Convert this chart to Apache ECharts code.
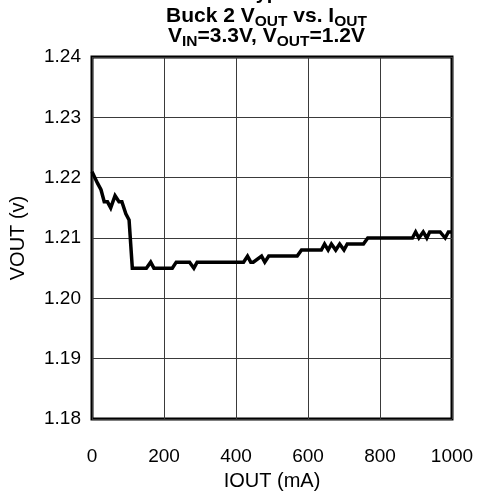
<!DOCTYPE html>
<html>
<head>
<meta charset="utf-8">
<script src="https://cdn.jsdelivr.net/npm/echarts@6/dist/echarts.min.js"></script>
<style>html,body{margin:0;padding:0;background:#fff;}#c{width:477px;height:498px;}</style>
</head>
<body>
<div id="c"></div>
<script>
const iout = [0, 16, 25, 34, 43, 52, 64, 75, 83, 94, 103, 112, 151, 163, 172, 223, 234, 271, 283, 292, 421, 432, 441, 448, 471, 480, 491, 570, 582, 637, 646, 656, 665, 677, 688, 700, 709, 754, 766, 890, 899, 908, 920, 930, 938, 967, 981, 990, 1000];
const vout = [1.221, 1.219, 1.218, 1.216, 1.216, 1.215, 1.217, 1.216, 1.216, 1.214, 1.213, 1.205, 1.205, 1.206, 1.205, 1.205, 1.206, 1.206, 1.205, 1.206, 1.206, 1.207, 1.206, 1.206, 1.207, 1.206, 1.207, 1.207, 1.208, 1.208, 1.209, 1.208, 1.209, 1.208, 1.209, 1.208, 1.209, 1.209, 1.210, 1.210, 1.211, 1.210, 1.211, 1.210, 1.211, 1.211, 1.210, 1.211, 1.211];
const xTicks = [0, 200, 400, 600, 800, 1000];
const yTicks = [1.18, 1.19, 1.20, 1.21, 1.22, 1.23, 1.24];
// title pieces: [text, isSubscript]
const titleLine1 = [['Buck 2 V', false], ['OUT', true], [' vs. I', false], ['OUT', true]];
const titleLine2 = [['V', false], ['IN', true], ['=3.3V, V', false], ['OUT', true], ['=1.2V', false]];

const FONT = '"Liberation Sans", Arial, sans-serif';
const MAIN_FS = 21, SUB_FS = 15.5;
const ctx = document.createElement('canvas').getContext('2d');
function measure(t, fs) { ctx.font = 'bold ' + fs + 'px ' + FONT; return ctx.measureText(t).width; }
function textEl(t, fs, x, baseY) {
  return {type: 'text', x: x, y: baseY - 0.31 * fs,
    style: {text: t, fontSize: fs, fontWeight: 'bold', fontFamily: FONT, fill: '#000', verticalAlign: 'middle', align: 'left'}};
}
function buildLine(pieces, centerX, baseY) {
  const widths = pieces.map(p => measure(p[0], p[1] ? SUB_FS : MAIN_FS));
  const total = widths.reduce((a, c) => a + c, 0);
  let x = centerX - total / 2;
  return pieces.map((p, i) => {
    const el = textEl(p[0], p[1] ? SUB_FS : MAIN_FS, x, baseY + (p[1] ? 4 : 0));
    x += widths[i];
    return el;
  });
}

const chart = echarts.init(document.getElementById('c'), null, {renderer: 'canvas'});
chart.setOption({
  animation: false,
  backgroundColor: '#fff',
  graphic: [
    textEl('Typical', 20, 245, 0),
    ...buildLine(titleLine1, 266.5, 23),
    ...buildLine(titleLine2, 266.5, 43)
  ],
  grid: {left: 91, right: 25, top: 57, bottom: 79, show: true, borderColor: '#000', borderWidth: 3},
  xAxis: {
    type: 'value', min: 0, max: 1000, interval: 200,
    name: 'IOUT (mA)', nameLocation: 'middle', nameGap: 52,
    nameTextStyle: {fontSize: 20, fontFamily: FONT, color: '#000'},
    axisLine: {show: false}, axisTick: {show: false},
    axisLabel: {fontSize: 19, fontFamily: FONT, color: '#000', margin: 28,
      formatter: v => xTicks.includes(v) ? String(v) : ''},
    splitLine: {show: true, lineStyle: {color: '#3a3a3a', width: 1}}
  },
  yAxis: {
    type: 'value', min: 1.18, max: 1.24, interval: 0.01,
    name: 'VOUT (v)', nameLocation: 'middle', nameGap: 64,
    nameTextStyle: {fontSize: 20, fontFamily: FONT, color: '#000'},
    axisLine: {show: false}, axisTick: {show: false},
    axisLabel: {fontSize: 19, fontFamily: FONT, color: '#000', margin: 11,
      formatter: v => { const t = yTicks.find(k => Math.abs(k - v) < 1e-6); return t !== undefined ? t.toFixed(2) : ''; }},
    splitLine: {show: true, lineStyle: {color: '#3a3a3a', width: 1}}
  },
  series: [{
    type: 'line', data: iout.map((x, i) => [x, vout[i]]),
    showSymbol: false, lineStyle: {color: '#000', width: 3.5, join: 'miter'},
    clip: true
  }]
});
</script>
</body>
</html>
